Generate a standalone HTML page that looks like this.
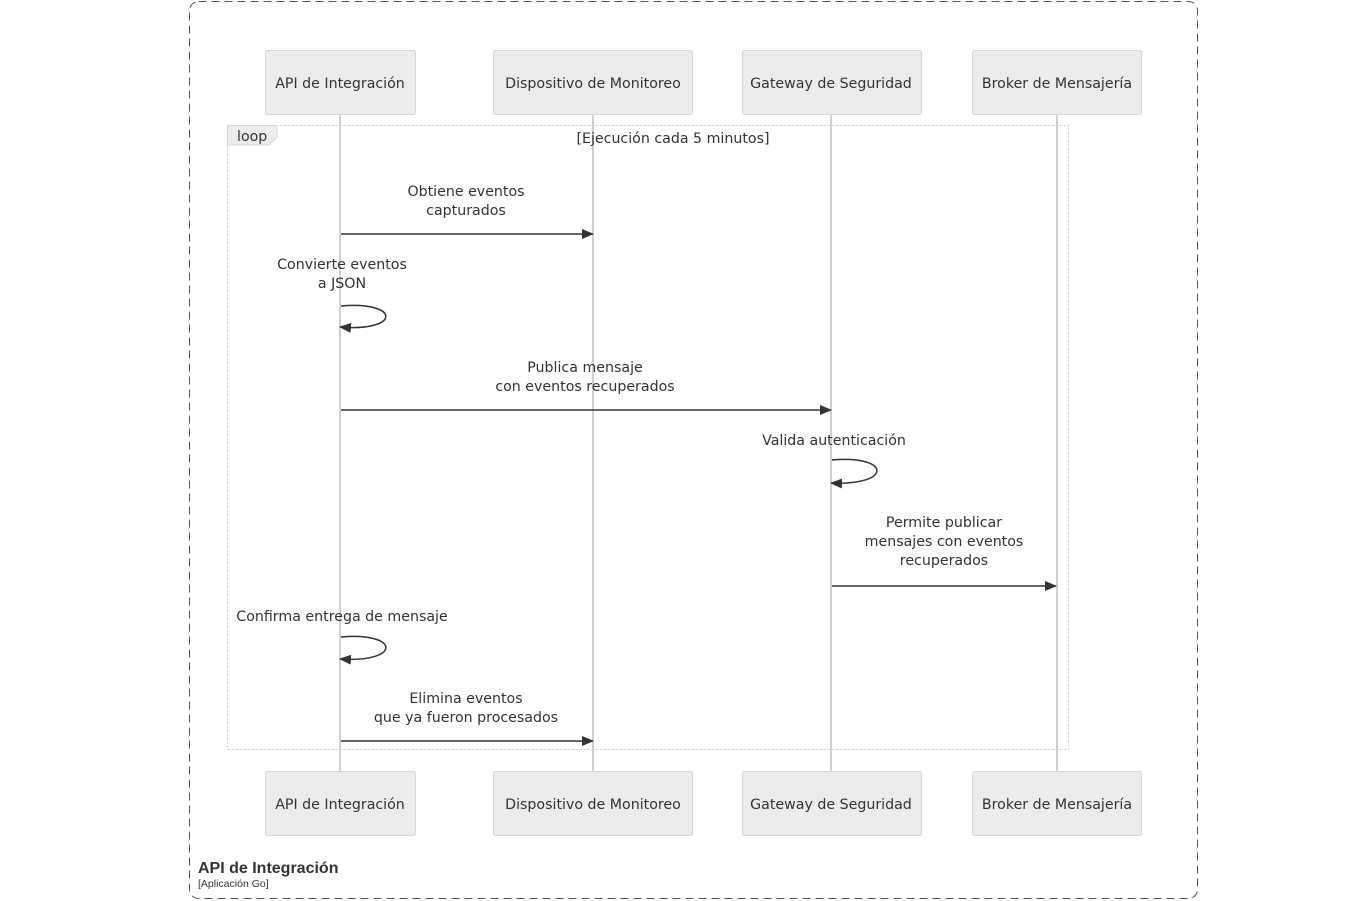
<!DOCTYPE html>
<html><head><meta charset="utf-8"><style>
html,body{margin:0;padding:0;background:#fff;width:1369px;height:901px;overflow:hidden}
svg text{font-family:"DejaVu Sans","Liberation Sans",sans-serif;fill:#333;font-size:14.2px}
</style></head><body>
<svg width="1369" height="901" viewBox="0 0 1369 901" xmlns="http://www.w3.org/2000/svg">
<defs><marker id="a" markerWidth="12" markerHeight="10" refX="11" refY="5" orient="auto" markerUnits="userSpaceOnUse"><path d="M0,0 L12,5 L0,10 z" fill="#333"/></marker></defs>
<rect x="189.5" y="1.5" width="1008" height="897" rx="9" fill="none" stroke="#555" stroke-dasharray="8,5"/>
<g stroke="#d0d0d0" stroke-width="2">
<line x1="340" y1="115" x2="340" y2="771"/><line x1="593" y1="115" x2="593" y2="771"/>
<line x1="831" y1="115" x2="831" y2="771"/><line x1="1057" y1="115" x2="1057" y2="771"/>
</g>
<g fill="#ececec" stroke="#d6d6d6">
<rect x="265.5" y="50.5" width="150" height="64" rx="2"/><rect x="493.5" y="50.5" width="199" height="64" rx="2"/>
<rect x="742.5" y="50.5" width="179" height="64" rx="2"/><rect x="972.5" y="50.5" width="169" height="64" rx="2"/>
<rect x="265.5" y="771.5" width="150" height="64" rx="2"/><rect x="493.5" y="771.5" width="199" height="64" rx="2"/>
<rect x="742.5" y="771.5" width="179" height="64" rx="2"/><rect x="972.5" y="771.5" width="169" height="64" rx="2"/>
</g>
<g text-anchor="middle">
<text x="340" y="88">API de Integración</text><text x="593" y="88">Dispositivo de Monitoreo</text>
<text x="831" y="88">Gateway de Seguridad</text><text x="1057" y="88">Broker de Mensajería</text>
<text x="340" y="809">API de Integración</text><text x="593" y="809">Dispositivo de Monitoreo</text>
<text x="831" y="809">Gateway de Seguridad</text><text x="1057" y="809">Broker de Mensajería</text>
</g>
<rect x="227.5" y="125.5" width="841" height="624" fill="none" stroke="#c8c8c8" stroke-dasharray="2,2"/>
<path d="M227.5,125.5 H277 V137 L269,145 H227.5 z" fill="#ececec" stroke="#d6d6d6"/>
<text x="237" y="141">loop</text>
<text x="673" y="143" text-anchor="middle">[Ejecución cada 5 minutos]</text>
<g stroke="#333" stroke-width="1.5" fill="none">
<line x1="341" y1="234" x2="593" y2="234" marker-end="url(#a)"/>
<line x1="341" y1="410" x2="831" y2="410" marker-end="url(#a)"/>
<line x1="832" y1="586" x2="1056" y2="586" marker-end="url(#a)"/>
<line x1="341" y1="741" x2="593" y2="741" marker-end="url(#a)"/>
<path d="M341,306 C401,301 401,332 340,327" marker-end="url(#a)"/>
<path d="M832,460 C892,455 892,486 831,483" marker-end="url(#a)"/>
<path d="M341,637 C401,632 401,663 340,659" marker-end="url(#a)"/>
</g>
<g text-anchor="middle">
<text x="466" y="196">Obtiene eventos</text><text x="466" y="215">capturados</text>
<text x="342" y="269">Convierte eventos</text><text x="342" y="288">a JSON</text>
<text x="585" y="372">Publica mensaje</text><text x="585" y="391">con eventos recuperados</text>
<text x="834" y="445">Valida autenticación</text>
<text x="944" y="527">Permite publicar</text><text x="944" y="546">mensajes con eventos</text><text x="944" y="565">recuperados</text>
<text x="342" y="621">Confirma entrega de mensaje</text>
<text x="466" y="703">Elimina eventos</text><text x="466" y="722">que ya fueron procesados</text>
</g>
<text x="198" y="873" style="font-family:'Liberation Sans',sans-serif;font-weight:bold;font-size:16px">API de Integración</text>
<text x="198" y="887" style="font-family:'Liberation Sans',sans-serif;font-size:10.5px">[Aplicación Go]</text>
</svg>
</body></html>
